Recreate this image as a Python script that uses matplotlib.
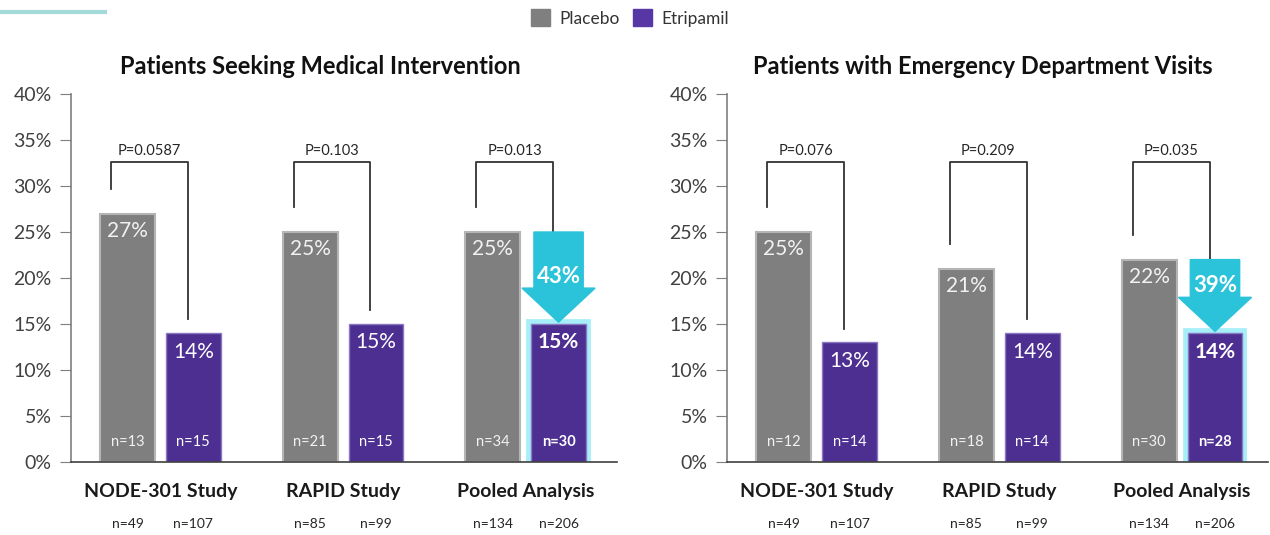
import matplotlib.pyplot as plt
import numpy as np
from matplotlib.patches import Patch, Polygon
from matplotlib.lines import Line2D

plt.rcParams['font.family'] = ['Lato', 'DejaVu Sans']

studies = ['NODE-301 Study', 'RAPID Study', 'Pooled Analysis']
n_placebo = [49, 85, 134]
n_etripamil = [107, 99, 206]

titles = ['Patients Seeking Medical Intervention',
          'Patients with Emergency Department Visits']
placebo = [[27, 25, 25], [25, 21, 22]]
etripamil = [[14, 15, 15], [13, 14, 14]]
events_placebo = [[13, 21, 34], [12, 18, 30]]
events_etripamil = [[15, 15, 30], [14, 14, 28]]
pvalues = [['0.0587', '0.103', '0.013'], ['0.076', '0.209', '0.035']]
reduction = ['43%', '39%']

GRAY = '#7f7f7f'
PURPLE = '#4c2f91'
CYAN = '#2ac3d9'
TXT = '#262626'

fig = plt.figure(figsize=(12.7, 5.35), dpi=100)
H = 535
axes = [fig.add_axes([71 / 1270, (H - 462) / H, 546 / 1270, 368 / H]),
        fig.add_axes([727 / 1270, (H - 462) / H, 541 / 1270, 368 / H])]

x = np.arange(len(studies))
w = 0.30
off = 0.18

for k, ax in enumerate(axes):
    pl = np.array(placebo[k])
    et = np.array(etripamil[k])
    ax.bar(x - off, pl, w, color=GRAY, edgecolor='#b5b5b5', linewidth=1.5, zorder=2)
    # glow around pooled etripamil bar
    ax.bar(x[2] + off, et[2], w, color=PURPLE, edgecolor='#a6eef8', linewidth=7, zorder=1)
    ax.bar(x + off, et, w, color=PURPLE, edgecolor='#8a78c0', linewidth=1, zorder=2)

    for i in range(len(studies)):
        bold = 'bold' if i == 2 else 'normal'
        ax.text(x[i] - off, pl[i] - 1.9, f'{pl[i]}%', ha='center', va='center',
                color='#f2f2f2', fontsize=15, zorder=3)
        ax.text(x[i] + off, et[i] - 2.0, f'{et[i]}%', ha='center', va='center',
                color='white', fontsize=15, fontweight=bold, zorder=3)
        ax.text(x[i] - off, 2.2, f'n={events_placebo[k][i]}', ha='center', va='center',
                color='#f2f2f2', fontsize=10.5, zorder=3)
        ax.text(x[i] + off, 2.2, f'n={events_etripamil[k][i]}', ha='center', va='center',
                color='white', fontsize=10.5, fontweight=bold, zorder=3)

        # bracket with p-value
        xl = x[i] - off - 0.09
        xr = x[i] + off - 0.03
        top = 32.6
        if i == 2:
            rbot = pl[i]
        else:
            rbot = et[i] + 1.5
        ax.plot([xl, xl, xr, xr], [pl[i] + 2.7, top, top, rbot],
                color='#333333', lw=1.3, zorder=1)
        ax.text((xl + xr) / 2, top + 0.4, f'P={pvalues[k][i]}', ha='center',
                va='bottom', fontsize=10.5, color=TXT)

        ax.text(x[i], -3.2, studies[i], ha='center', va='center', fontsize=14,
                fontweight='bold', color='#1a1a1a', clip_on=False)
        ax.text(x[i] - off, -6.7, f'n={n_placebo[i]}', ha='center', va='center',
                fontsize=10, color=TXT, clip_on=False)
        ax.text(x[i] + off, -6.7, f'n={n_etripamil[i]}', ha='center', va='center',
                fontsize=10, color=TXT, clip_on=False)

    # reduction arrow on pooled bars
    cx = x[2] + off
    ytop = pl[2]
    ytip = et[2] + 0.2
    yhead = ytip + 3.7
    bw = 0.135
    hw = 0.2
    arrow = Polygon([[cx - bw, ytop], [cx + bw, ytop], [cx + bw, yhead], [cx + hw, yhead],
                     [cx, ytip], [cx - hw, yhead], [cx - bw, yhead]],
                    closed=True, color=CYAN, zorder=4)
    ax.add_patch(arrow)
    ax.text(cx, yhead + 1.3, reduction[k], ha='center', va='center', color='white',
            fontsize=16, fontweight='bold', zorder=5)

    ax.set_xlim(-0.49, 2.47 if k == 1 else 2.5)
    ax.set_ylim(0, 40)
    ax.set_yticks(np.arange(0, 41, 5))
    ax.set_yticklabels([f'{v}%' for v in range(0, 41, 5)], fontsize=14, color='#404040')
    ax.set_xticks([])
    ax.tick_params(axis='y', direction='out', length=8, color='#7f7f7f', pad=6)
    for s in ['top', 'right']:
        ax.spines[s].set_visible(False)
    ax.spines['left'].set_color('#7f7f7f')
    ax.spines['bottom'].set_color('#404040')
    ax.spines['left'].set_linewidth(1.2)
    ax.spines['bottom'].set_linewidth(1.2)

fig.text(320 / 1270, 1 - 67 / H, titles[0], ha='center', va='center', fontsize=17,
         fontweight='bold', color='#111111')
fig.text(983 / 1270, 1 - 67 / H, titles[1], ha='center', va='center', fontsize=17,
         fontweight='bold', color='#111111')

handles = [Patch(color=GRAY, label='Placebo'), Patch(color='#5736a6', label='Etripamil')]
fig.legend(handles=handles, loc='center', bbox_to_anchor=(630 / 1270, 1 - 18 / H), ncol=2,
           frameon=False, fontsize=12.5, handlelength=1.1, handleheight=1.1,
           handletextpad=0.5, columnspacing=0.8, labelcolor='#333333')

fig.add_artist(Line2D([0, 105 / 1270], [1 - 12 / H, 1 - 12 / H], color='#a3d9d9', lw=3))

fig.savefig('out.png', dpi=100)
